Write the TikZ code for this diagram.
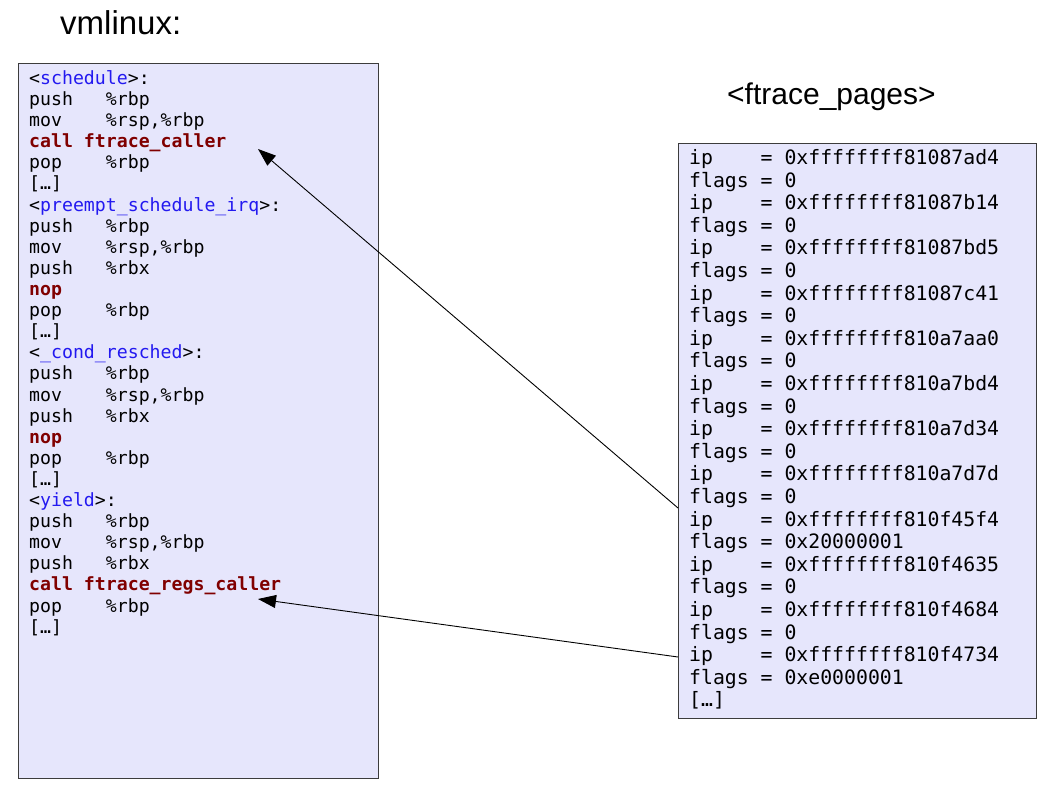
\documentclass[tikz,border=0pt]{standalone}
\usepackage{fontspec}
\setmainfont{Liberation Sans}
\setmonofont{DejaVu Sans Mono}
\usetikzlibrary{positioning,arrows.meta}
\definecolor{boxfill}{RGB}{230,230,252}
\definecolor{boxline}{RGB}{60,60,60}
\definecolor{symblue}{RGB}{35,25,240}
\definecolor{hotred}{RGB}{128,0,0}
\newcommand{\sym}[1]{<\textcolor{symblue}{#1}>:}
\newcommand{\hot}[1]{\textcolor{hotred}{\bfseries #1}}
\tikzset{
  membox/.style={draw=boxline,fill=boxfill,line width=1.3pt,anchor=north west,inner sep=0pt},
  asmline/.style={anchor=base west,inner sep=0pt,font=\ttfamily\fontsize{18.2}{21}\selectfont},
  ftline/.style={anchor=base west,inner sep=0pt,font=\ttfamily\fontsize{19.8}{22.6}\selectfont},
  title/.style={anchor=base west,inner sep=0pt,font=\fontsize{33}{37}\selectfont},
  ptr/.style={line width=0.9pt,-{Triangle[length=18pt,width=13pt]}}
}

\begin{document}
\begin{tikzpicture}[x=1pt,y=-1pt]
  \useasboundingbox (0,0) rectangle (1056,791);
  % titles
  \node[title] (vmtitle) at (60,35) {vmlinux:};
  \node[title,font=\fontsize{30}{34}\selectfont] (pgtitle) at (727,105) {<ftrace\_pages>};
  % boxes
  \node[membox,minimum width=360pt,minimum height=715pt] (vmbox) at (18,63) {};
  \node[membox,minimum width=358pt,minimum height=575pt] (pgbox) at (678,143) {};
  % disassembly
  \foreach \txt [count=\i] in {
    {\sym{schedule}}, {push~~~\%rbp}, {mov~~~~\%rsp,\%rbp}, {\hot{call ftrace\_caller}}, {pop~~~~\%rbp}, {[…]},
    {\sym{preempt\_schedule\_irq}}, {push~~~\%rbp}, {mov~~~~\%rsp,\%rbp}, {push~~~\%rbx}, {\hot{nop}}, {pop~~~~\%rbp}, {[…]},
    {\sym{\_cond\_resched}}, {push~~~\%rbp}, {mov~~~~\%rsp,\%rbp}, {push~~~\%rbx}, {\hot{nop}}, {pop~~~~\%rbp}, {[…]},
    {\sym{yield}}, {push~~~\%rbp}, {mov~~~~\%rsp,\%rbp}, {push~~~\%rbx}, {\hot{call ftrace\_regs\_caller}}, {pop~~~~\%rbp}, {[…]}}
    \node[asmline] (vm\i) at (29,{63.4+21.1*\i}) {\txt};
  % ftrace records
  \foreach \addr/\flg [count=\k] in {81087ad4/0, 81087b14/0, 81087bd5/0, 81087c41/0,
      810a7aa0/0, 810a7bd4/0, 810a7d34/0, 810a7d7d/0,
      810f45f4/0x20000001, 810f4635/0, 810f4684/0, 810f4734/0xe0000001} {
    \node[ftline] (ip\k) at (689,{164.5+45.2*(\k-1)}) {ip~~~~=~0xffffffff\addr};
    \node[ftline] (fl\k) at (689,{187.1+45.2*(\k-1)}) {flags~=~\flg};
  }
  \node[ftline] (ftmore) at (689,{164.5+22.6*24}) {[…]};
  % pointers back into the code
  \coordinate (src1) at (678,508); \coordinate (dst1) at (258,149);
  \coordinate (src2) at (678,657); \coordinate (dst2) at (258,599);
  \draw[ptr] (src1) -- (dst1);
  \draw[ptr] (src2) -- (dst2);
\end{tikzpicture}
\end{document}
